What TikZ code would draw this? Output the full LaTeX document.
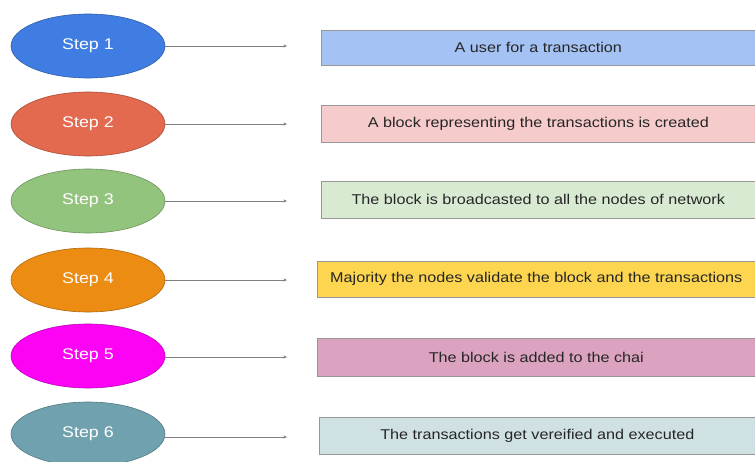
\documentclass[tikz,border=0pt]{standalone}
\usepackage{fontspec}
\setmainfont{Liberation Sans}
\newfontfamily\stepfont[FakeStretch=1.15]{Liberation Sans}
\newfontfamily\boxfont[FakeStretch=1.14]{Liberation Sans}
\usetikzlibrary{shapes.geometric,arrows.meta}
\definecolor{cA}{HTML}{3F7DE3}
\definecolor{bA}{HTML}{A4C2F4}
\definecolor{cB}{HTML}{E3694F}
\definecolor{bB}{HTML}{F6CBCB}
\definecolor{cC}{HTML}{93C47D}
\definecolor{bC}{HTML}{D9EAD3}
\definecolor{cD}{HTML}{EC8C12}
\definecolor{bD}{HTML}{FDD54E}
\definecolor{cE}{HTML}{FC03F5}
\definecolor{bE}{HTML}{DBA3BF}
\definecolor{cF}{HTML}{6FA2AE}
\definecolor{bF}{HTML}{D0E1E4}
\definecolor{edge}{HTML}{6A6A6A}
\tikzset{
  stepnode/.style={ellipse, draw=#1!75!black, fill=#1, line width=0.6pt,
    minimum width=154pt, minimum height=64pt, inner sep=0pt,
    text=white, font=\stepfont\fontsize{15.5}{17}\selectfont},
  infobox/.style={rectangle, draw=edge!70, fill=#1, line width=0.6pt,
    anchor=west, minimum height=36pt, inner sep=0pt,
    text=black!85, font=\boxfont\fontsize{14.2}{16}\selectfont},
  link/.style={draw=edge!85, line width=0.6pt, -{Stealth[length=3.5pt,width=3pt]}}
}
\begin{document}
\begin{tikzpicture}[x=1pt,y=-1pt]
\useasboundingbox[fill=white] (0,0) rectangle (755,461);
% ellipses
\node[stepnode=cA] (s1) at (88,46) {Step 1};
\node[stepnode=cB] (s2) at (88,124) {Step 2};
\node[stepnode=cC] (s3) at (88,201) {Step 3};
\node[stepnode=cD] (s4) at (88,280) {Step 4};
\node[stepnode=cE] (s5) at (88,356) {Step 5};
\node[stepnode=cF] (s6) at (88,434) {Step 6};
% arrow ends
\coordinate (a1) at (287,46);
\coordinate (a2) at (287,124);
\coordinate (a3) at (287,201);
\coordinate (a4) at (287,280);
\coordinate (a5) at (287,357);
\coordinate (a6) at (287,437);
\draw[link] (s1.east) -- (a1);
\draw[link] (s2.east) -- (a2);
\draw[link] (s3.east) -- (a3);
\draw[link] (s4.east) -- (a4);
\draw[link] (s5.east |- a5) -- (a5);
\draw[link] (s6.east |- a6) -- (a6);
% boxes
\node[infobox=bA, minimum width=434pt, minimum height=35pt] (b1) at (321,47.5) {A user for a transaction};
\node[infobox=bB, minimum width=434pt, minimum height=37pt] (b2) at (321,123.5) {A block representing the transactions is created};
\node[infobox=bC, minimum width=434pt, minimum height=37pt] (b3) at (321,199.5) {The block is broadcasted to all the nodes of network};
\node[infobox=bD, minimum width=438pt, minimum height=36pt] (b4) at (317,279) {Majority the nodes validate the block and the transactions};
\node[infobox=bE, minimum width=438pt, minimum height=38pt] (b5) at (317,357) {The block is added to the chai};
\node[infobox=bF, minimum width=436pt, minimum height=37pt] (b6) at (319,435.5) {The transactions get vereified and executed};
\end{tikzpicture}
\end{document}
